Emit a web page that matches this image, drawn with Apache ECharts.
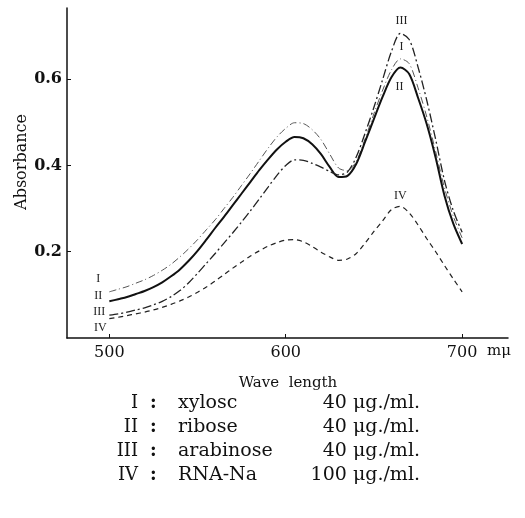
<!DOCTYPE html>
<html>
<head>
<meta charset="utf-8">
<script src="https://cdn.jsdelivr.net/npm/echarts@6/dist/echarts.min.js"></script>
<style>
html,body{margin:0;padding:0;background:#fff;}
#c{width:525px;height:518px;}
</style>
</head>
<body>
<div id="c"></div>
<script>
// wavelength (mμ), every 5 mμ from 500 to 700
var wavelengths = [500,505,510,515,520,525,530,535,540,545,550,555,560,565,570,575,580,585,590,595,600,605,610,615,620,625,630,635,640,645,650,655,660,665,670,675,680,685,690,695,700];
// I : xylose 40 μg./ml.
var xylose    = [0.107,0.113,0.119,0.127,0.135,0.145,0.157,0.171,0.188,0.207,0.228,0.251,0.274,0.300,0.326,0.354,0.382,0.411,0.440,0.466,0.486,0.499,0.497,0.483,0.460,0.426,0.394,0.388,0.410,0.462,0.520,0.575,0.622,0.647,0.636,0.580,0.512,0.432,0.348,0.282,0.232];
// II : ribose 40 μg./ml.
var ribose    = [0.085,0.090,0.095,0.102,0.109,0.118,0.129,0.143,0.159,0.179,0.202,0.228,0.255,0.281,0.308,0.335,0.362,0.389,0.414,0.437,0.455,0.466,0.463,0.449,0.426,0.396,0.373,0.376,0.404,0.455,0.508,0.560,0.605,0.627,0.612,0.557,0.495,0.418,0.330,0.265,0.218];
// III : arabinose 40 μg./ml.
var arabinose = [0.053,0.056,0.060,0.065,0.070,0.077,0.085,0.096,0.110,0.128,0.150,0.173,0.196,0.220,0.244,0.269,0.295,0.322,0.350,0.377,0.400,0.413,0.412,0.405,0.396,0.386,0.378,0.385,0.420,0.475,0.535,0.600,0.665,0.706,0.692,0.628,0.550,0.460,0.365,0.295,0.245];
// IV : RNA-Na 100 μg./ml.
var rnaNa     = [0.045,0.048,0.052,0.056,0.060,0.065,0.071,0.078,0.086,0.095,0.106,0.118,0.132,0.147,0.162,0.176,0.190,0.202,0.213,0.221,0.227,0.228,0.223,0.212,0.199,0.188,0.180,0.183,0.196,0.220,0.247,0.272,0.298,0.305,0.290,0.262,0.230,0.200,0.168,0.137,0.107];

var xTicks = [500,600,700];
var yTicks = [0.2,0.4,0.6];
var curveLabels = ['I','II','III','IV'];
var legendNames = ['xylosc','ribose','arabinose','RNA-Na'];
var legendAmounts = ['40 μg./ml.','40 μg./ml.','40 μg./ml.','100 μg./ml.'];

var SERIF = '"DejaVu Serif","Liberation Serif",serif';
var SERIF2 = '"Liberation Serif","DejaVu Serif",serif';

function pairs(vals){ return wavelengths.map(function(w,i){ return [w, vals[i]]; }); }
function peakIndex(vals){
  var bi = -1;
  for (var i = 0; i < vals.length; i++) {
    if (wavelengths[i] > 640 && (bi < 0 || vals[i] > vals[bi])) bi = i;
  }
  return bi;
}
function mk(name, vals, style, startOff, peakOff){
  var pi = peakIndex(vals);
  return {
    name: name, type: 'line', data: pairs(vals), smooth: 0.3, symbol: 'none',
    lineStyle: style,
    markPoint: {
      symbol: 'circle', symbolSize: 0, silent: true,
      label: { show: true, fontFamily: SERIF2, fontSize: 12, color: '#222', position: 'inside' },
      data: [
        { coord: [wavelengths[0], vals[0]], label: { formatter: name, offset: startOff } },
        { coord: [wavelengths[pi], vals[pi]], label: { formatter: name, offset: peakOff } }
      ]
    }
  };
}

var chart = echarts.init(document.getElementById('c'), null, { renderer: 'canvas' });
var option = {
  animation: false,
  backgroundColor: '#fff',
  grid: { left: 67, width: 441, top: 8, bottom: 180, containLabel: false },
  xAxis: {
    type: 'value', min: 476, max: 726,
    axisLine: { show: true, lineStyle: { color: '#111', width: 1.5 } },
    axisTick: { show: true, inside: true, length: 4, customValues: xTicks, lineStyle: { color: '#111' } },
    axisLabel: { customValues: xTicks, fontFamily: SERIF, fontSize: 16, color: '#111', margin: 7 },
    splitLine: { show: false }
  },
  yAxis: {
    type: 'value', min: 0, max: 0.765,
    axisLine: { show: true, lineStyle: { color: '#111', width: 1.5 } },
    axisTick: { show: true, inside: true, length: 4, customValues: yTicks, lineStyle: { color: '#111' } },
    axisLabel: { customValues: yTicks, fontFamily: SERIF, fontSize: 16, fontWeight: 'bold', color: '#111', margin: 5,
                 formatter: function(v){ return v.toFixed(1); } },
    splitLine: { show: false }
  },
  series: [
    mk('I', xylose, { color: '#555', width: 1, type: [7,3,1,3] }, [-11,-13], [1,-12]),
    mk('II', ribose, { color: '#111', width: 2 }, [-11,-5], [-1,19]),
    mk('III', arabinose, { color: '#222', width: 1.3, type: [9,3,2,3] }, [-10,-3], [1,-13]),
    mk('IV', rnaNa, { color: '#222', width: 1.2, type: [5,4] }, [-9,9], [0,-11])
  ],
  graphic: []
};

var g = [];
g.push({ type: 'text', x: 22, y: 162, rotation: Math.PI / 2,
         style: { text: 'Absorbance', font: '16px ' + SERIF, fill: '#111', textAlign: 'center', textVerticalAlign: 'middle' } });
g.push({ type: 'text', x: 487, y: 344, style: { text: 'mμ', font: '15px ' + SERIF, fill: '#111' } });
g.push({ type: 'text', x: 288, y: 376, style: { text: 'Wave  length', font: '15px ' + SERIF, fill: '#111', textAlign: 'center' } });
for (var i = 0; i < 4; i++) {
  var yy = 394 + i * 24;
  g.push({ type: 'text', x: 138, y: yy, style: { text: curveLabels[i], font: '18px ' + SERIF, fill: '#111', textAlign: 'right' } });
  g.push({ type: 'text', x: 150, y: yy, style: { text: ':', font: 'bold 18px ' + SERIF, fill: '#111' } });
  g.push({ type: 'text', x: 178, y: yy, style: { text: legendNames[i], font: '19px ' + SERIF, fill: '#111' } });
  g.push({ type: 'text', x: 420, y: yy, style: { text: legendAmounts[i], font: '19px ' + SERIF, fill: '#111', textAlign: 'right' } });
}
option.graphic = g;
chart.setOption(option);
</script>
</body>
</html>
